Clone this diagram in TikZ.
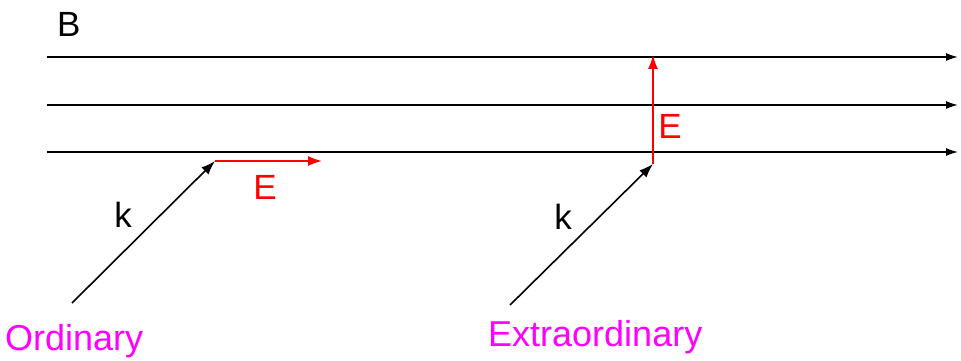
\documentclass[tikz,border=0pt]{standalone}
\usepackage{fontspec}
\setmainfont{Liberation Sans}
\usetikzlibrary{arrows.meta}
\definecolor{modecol}{RGB}{255,0,255}
\definecolor{evcol}{RGB}{255,0,0}
\begin{document}
\begin{tikzpicture}[x=1pt,y=-1pt,
  fieldline/.style={line width=1.6pt,-{Latex[length=12pt,width=8pt]}},
  kvec/.style={line width=1.6pt,-{Latex[length=14pt,width=10pt]}},
  evec/.style={evcol,line width=1.6pt,-{Latex[length=14pt,width=10pt]}},
  lbl/.style={inner sep=0pt,font=\fontsize{35}{38}\selectfont},
  mode/.style={lbl,text=modecol,font=\fontsize{36}{40}\selectfont}]
\useasboundingbox (0,0) rectangle (961,361);
\fill[white] (0,0) rectangle (961,361);
% field lines
\coordinate (b1s) at (47,57);  \coordinate (b1e) at (958,57);
\coordinate (b2s) at (47,105); \coordinate (b2e) at (958,105);
\coordinate (b3s) at (47,152); \coordinate (b3e) at (958,152);
\draw[fieldline] (b1s) -- (b1e);
\draw[fieldline] (b2s) -- (b2e);
\draw[fieldline] (b3s) -- (b3e);
\node[lbl,anchor=base west] (B) at (57,37) {B};
% ordinary
\coordinate (ok0) at (72,303);
\coordinate (ok1) at (215,161);
\coordinate (oe1) at (322,161);
\draw[kvec] (ok0) -- (ok1);
\draw[evec] (ok1) -- (oe1);
\node[lbl,anchor=base] (ko) at (123,227) {k};
\node[lbl,anchor=base,text=evcol] (Eo) at (265,199) {E};
\node[mode,anchor=base west] (ord) at (5,350) {Ordinary};
% extraordinary
\coordinate (ek0) at (510,305);
\coordinate (ek1) at (653,164);
\coordinate (ee1) at (653,55);
\draw[kvec] (ek0) -- (ek1);
\draw[evec] (ek1) -- (ee1);
\node[lbl,anchor=base] (ke) at (563,229) {k};
\node[lbl,anchor=base,text=evcol] (Ee) at (670,138) {E};
\node[mode,anchor=base west] (ext) at (488,346) {Extraordinary};
\end{tikzpicture}
\end{document}
